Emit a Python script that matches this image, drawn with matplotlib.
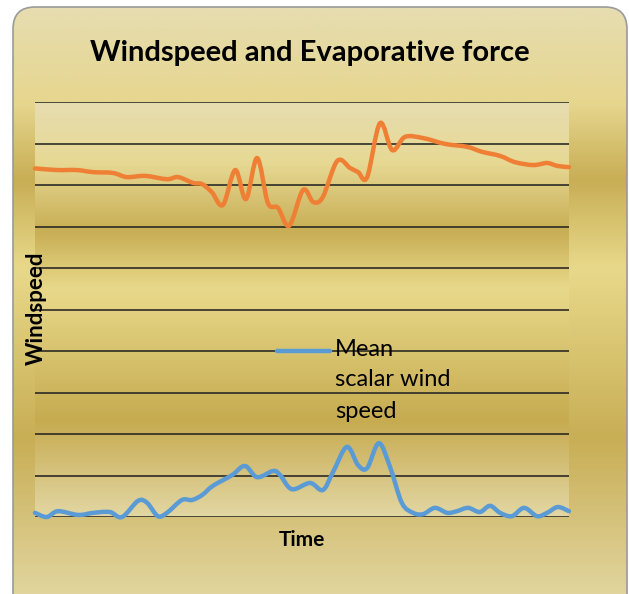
import numpy as np
import matplotlib
matplotlib.use('Agg')
import matplotlib.pyplot as plt
from matplotlib.colors import LinearSegmentedColormap
from matplotlib.patches import FancyBboxPatch, PathPatch
from matplotlib.path import Path

plt.rcParams['font.family'] = ['Lato', 'DejaVu Sans']

# time position (0-100) and series values
t_evap = [0, 4.1, 7.8, 10.9, 14.6, 17.2, 20.6, 24.7, 26.8, 29.6, 31.3, 33.1, 35.2,
          37.5, 39.5, 41.6, 43.6, 45.5, 47.6, 50.2, 52.1, 53.9, 56.6, 59.0, 60.5,
          62.2, 64.6, 66.9, 69.3, 72.7, 76.8, 80.9, 83.7, 87.1, 89.9, 93.3, 95.9,
          97.8, 100]
evap = [8.40, 8.36, 8.36, 8.31, 8.29, 8.19, 8.22, 8.14, 8.19, 8.05, 8.02, 7.83, 7.52,
        8.36, 7.66, 8.65, 7.57, 7.45, 7.02, 7.88, 7.59, 7.71, 8.58, 8.41, 8.31,
        8.19, 9.49, 8.84, 9.16, 9.13, 8.99, 8.92, 8.80, 8.70, 8.55, 8.48, 8.53,
        8.46, 8.43]

t_wind = [0, 2.2, 4.3, 8.1, 10.9, 14.0, 16.3, 19.3, 21.0, 23.0, 24.7, 27.5, 29.4,
          31.3, 33.3, 36.9, 39.3, 41.6, 44.6, 45.9, 48.1, 51.5, 53.9, 55.8, 58.4,
          60.5, 62.2, 64.4, 66.5, 68.7, 70.8, 72.7, 74.9, 77.2, 79.0, 81.1, 83.3,
          85.2, 87.1, 89.3, 91.6, 94.0, 95.9, 97.9, 100]
wind = [0.10, 0.00, 0.14, 0.05, 0.10, 0.12, 0.00, 0.39, 0.34, 0.02, 0.10, 0.41, 0.41,
        0.53, 0.75, 1.01, 1.23, 0.96, 1.11, 1.01, 0.67, 0.82, 0.65, 1.08, 1.69,
        1.25, 1.18, 1.78, 1.20, 0.34, 0.10, 0.07, 0.22, 0.10, 0.14, 0.22, 0.12,
        0.27, 0.10, 0.02, 0.22, 0.02, 0.10, 0.24, 0.14]


def smooth_path(xs, ys, k=1 / 6):
    # excel style smoothed line: bezier through the data points
    x = np.asarray(xs, float)
    y = np.asarray(ys, float)
    verts = [(x[0], y[0])]
    codes = [Path.MOVETO]
    n = len(x)
    for i in range(n - 1):
        i0 = max(i - 1, 0)
        i3 = min(i + 2, n - 1)
        c1 = (x[i] + (x[i + 1] - x[i0]) * k, y[i] + (y[i + 1] - y[i0]) * k)
        c2 = (x[i + 1] - (x[i3] - x[i]) * k, y[i + 1] - (y[i3] - y[i]) * k)
        verts += [c1, c2, (x[i + 1], y[i + 1])]
        codes += [Path.CURVE4] * 3
    return Path(verts, codes)


W, H = 629, 594
fig = plt.figure(figsize=(W / 100, H / 100), dpi=100)
fig.patch.set_facecolor('white')

# gold gradient chart background with rounded border
bg = fig.add_axes([0, 0, 1, 1])
bg.set_xlim(0, W)
bg.set_ylim(H, 0)
bg.axis('off')
outer = LinearSegmentedColormap.from_list('outer', [
    (0.0, '#e6ddb0'), (0.16, '#e6d68e'), (0.29, '#c8ae55'), (0.44, '#e8d98a'),
    (0.73, '#c8ae55'), (1.0, '#e2d6a0')])
grad = np.linspace(0, 1, 300).reshape(-1, 1)
im = bg.imshow(grad, cmap=outer, aspect='auto', extent=(13, 627, 600, 7))
box = FancyBboxPatch((13, 7), 614, 620, boxstyle='round,pad=0,rounding_size=22',
                     facecolor='none', edgecolor='#9a9a9a', lw=1.2)
bg.add_patch(box)
im.set_clip_path(box)

# plot area
ax = fig.add_axes([35 / W, 1 - 517 / H, 534 / W, 415 / H])
inner = LinearSegmentedColormap.from_list('inner', [
    (0.0, '#e6ddb0'), (0.14, '#e7d994'), (0.31, '#c8ae55'), (0.45, '#e8d98a'),
    (0.77, '#c6ab50'), (1.0, '#e2d6a2')])
ax.imshow(grad, cmap=inner, aspect='auto', extent=(0, 100, 0, 10), zorder=0)
ax.set_xlim(0, 100)
ax.set_ylim(0, 10)
for g in range(11):
    ax.axhline(g, color='#1e1e1e', lw=1.1, zorder=1)

ax.add_patch(PathPatch(smooth_path(t_evap, evap), facecolor='none',
                       edgecolor='#ef7f35', lw=3.2, joinstyle='round',
                       capstyle='round', zorder=3, clip_on=False))
ax.add_patch(PathPatch(smooth_path(t_wind, wind), facecolor='none',
                       edgecolor='#5b9bd5', lw=3.2, joinstyle='round',
                       capstyle='round', zorder=3, clip_on=False))

for s in ax.spines.values():
    s.set_visible(False)
ax.set_xticks([])
ax.set_yticks([])

# legend drawn by hand inside the plot area
ax.plot([45.3, 55.3], [4.0, 4.0], color='#5b9bd5', lw=3.2, zorder=3,
        solid_capstyle='round')
fig.text(335 / W, 1 - 349 / H, 'Mean', fontsize=17, va='center', ha='left')
fig.text(335 / W, 1 - 380 / H, 'scalar wind', fontsize=17, va='center', ha='left')
fig.text(335 / W, 1 - 412 / H, 'speed', fontsize=17, va='center', ha='left')

fig.text(310 / W, 1 - 53 / H, 'Windspeed and Evaporative force', fontsize=21,
         fontweight='bold', ha='center', va='center')
fig.text(36 / W, 1 - 308 / H, 'Windspeed', fontsize=16, fontweight='bold',
         rotation=90, ha='center', va='center')
fig.text(302 / W, 1 - 540 / H, 'Time', fontsize=15, fontweight='bold',
         ha='center', va='center')

fig.savefig('out.png', dpi=100)
